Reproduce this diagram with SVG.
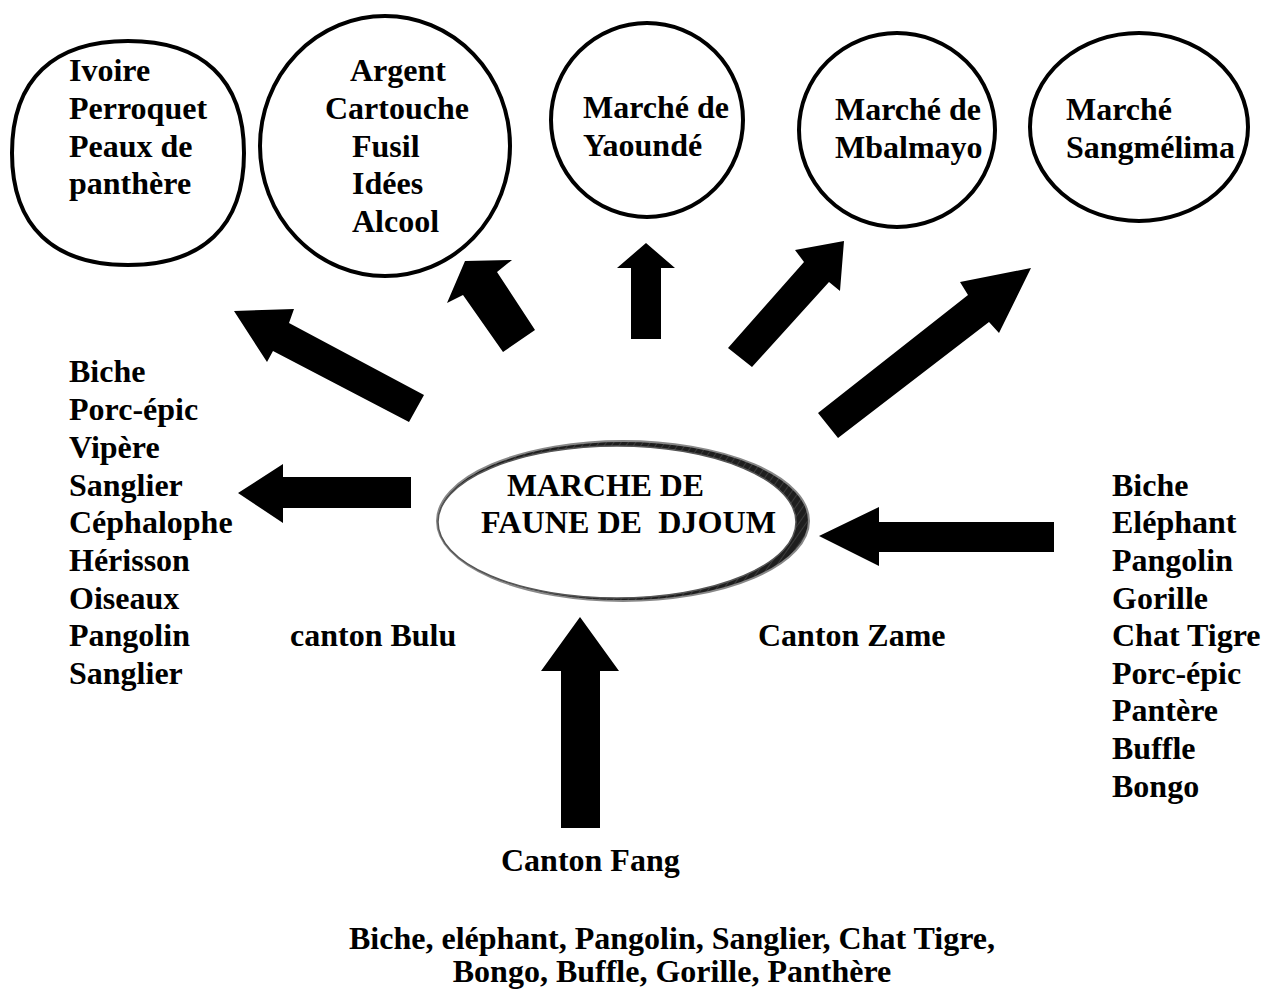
<svg xmlns="http://www.w3.org/2000/svg" width="1271" height="992" viewBox="0 0 1271 992">
<style>
  text { font-family: "Liberation Serif", "Times New Roman", serif; font-weight: bold; font-size: 32px; fill: #000; white-space: pre; }
  .ring { fill: #fff; stroke: #000; stroke-width: 4; }
  .arrow { fill: #000; stroke: none; }
  .center { font-size: 31px; }
</style>
<defs>
  <pattern id="hatch" width="6" height="6" patternUnits="userSpaceOnUse" patternTransform="rotate(35)">
    <rect width="6" height="6" fill="#1e1e1e"/>
    <line x1="0" y1="0" x2="0" y2="6" stroke="#6a6a6a" stroke-width="0.8"/>
  </pattern>
</defs>
<rect width="1271" height="992" fill="#fff"/>

<g id="connectors">
  <polygon class="arrow" points="234,311 294,309 289,323 424,395 409,422 273,351 267,362"/>
  <polygon class="arrow" points="465,261 512,260 497,272 535,330 503,352 463,295 447,303"/>
  <polygon class="arrow" points="646,243 675,268 661,268 661,339 631,339 631,268 617,268"/>
  <polygon class="arrow" points="844,241 840,291 829,282 752,367 728,348 804,262 795,250"/>
  <polygon class="arrow" points="1031,268 999,333 989,322 838,438 818,413 968,295 960,282"/>
  <polygon class="arrow" points="238,493 283,464 283,477 411,477 411,508 283,508 283,523"/>
  <polygon class="arrow" points="819,536 879,507 879,522 1054,522 1054,552 879,552 879,566"/>
  <polygon class="arrow" points="580,617 619,671 600,671 600,828 561,828 561,671 541,671"/>
</g>

<g id="node-ivoire">
  <path class="ring" d="M244,153 C244,227 202,265 128,265 C54,265 12,227 12,153 C12,79 54,41 128,41 C202,41 244,79 244,153 Z"/>
  <text x="69" y="81">Ivoire</text>
  <text x="69" y="119">Perroquet</text>
  <text x="69" y="157">Peaux de</text>
  <text x="69" y="194">panthère</text>
</g>

<g id="node-argent">
  <ellipse class="ring" cx="385" cy="146" rx="125" ry="130"/>
  <text x="350" y="81">Argent</text>
  <text x="325" y="119">Cartouche</text>
  <text x="352" y="157">Fusil</text>
  <text x="352" y="194">Idées</text>
  <text x="352" y="232">Alcool</text>
</g>

<g id="node-yaounde">
  <ellipse class="ring" cx="647" cy="120" rx="96" ry="97"/>
  <text x="583" y="118">Marché de</text>
  <text x="583" y="156">Yaoundé</text>
</g>

<g id="node-mbalmayo">
  <ellipse class="ring" cx="897" cy="130" rx="98" ry="97"/>
  <text x="835" y="120">Marché de</text>
  <text x="835" y="158">Mbalmayo</text>
</g>

<g id="node-sangmelima">
  <ellipse class="ring" cx="1139" cy="127" rx="109" ry="94"/>
  <text x="1066" y="120">Marché</text>
  <text x="1066" y="158">Sangmélima</text>
</g>

<g id="node-djoum">
  <ellipse cx="623" cy="521" rx="186" ry="80" fill="url(#hatch)" stroke="#888" stroke-width="2"/>
  <ellipse cx="617" cy="522" rx="179" ry="76" fill="#fff" stroke="#555" stroke-width="1.5"/>
  <text class="center" x="507" y="496" textLength="197" lengthAdjust="spacingAndGlyphs">MARCHE DE</text>
  <text class="center" x="481" y="533" textLength="295" lengthAdjust="spacingAndGlyphs">FAUNE DE  DJOUM</text>
</g>

<g id="node-bulu-list">
  <text x="69" y="382">Biche</text>
  <text x="69" y="420">Porc-épic</text>
  <text x="69" y="458">Vipère</text>
  <text x="69" y="496">Sanglier</text>
  <text x="69" y="533">Céphalophe</text>
  <text x="69" y="571">Hérisson</text>
  <text x="69" y="609">Oiseaux</text>
  <text x="69" y="646">Pangolin</text>
  <text x="69" y="684">Sanglier</text>
</g>

<g id="node-bulu">
  <text x="290" y="646">canton Bulu</text>
</g>

<g id="node-zame">
  <text x="758" y="646">Canton Zame</text>
</g>

<g id="node-zame-list">
  <text x="1112" y="496">Biche</text>
  <text x="1112" y="533">Eléphant</text>
  <text x="1112" y="571">Pangolin</text>
  <text x="1112" y="609">Gorille</text>
  <text x="1112" y="646">Chat Tigre</text>
  <text x="1112" y="684">Porc-épic</text>
  <text x="1112" y="721">Pantère</text>
  <text x="1112" y="759">Buffle</text>
  <text x="1112" y="797">Bongo</text>
</g>

<g id="node-fang">
  <text x="501" y="871">Canton Fang</text>
</g>

<g id="node-fang-list">
  <text x="672" y="949" text-anchor="middle">Biche, eléphant, Pangolin, Sanglier, Chat Tigre,</text>
  <text x="672" y="982" text-anchor="middle">Bongo, Buffle, Gorille, Panthère</text>
</g>
</svg>
